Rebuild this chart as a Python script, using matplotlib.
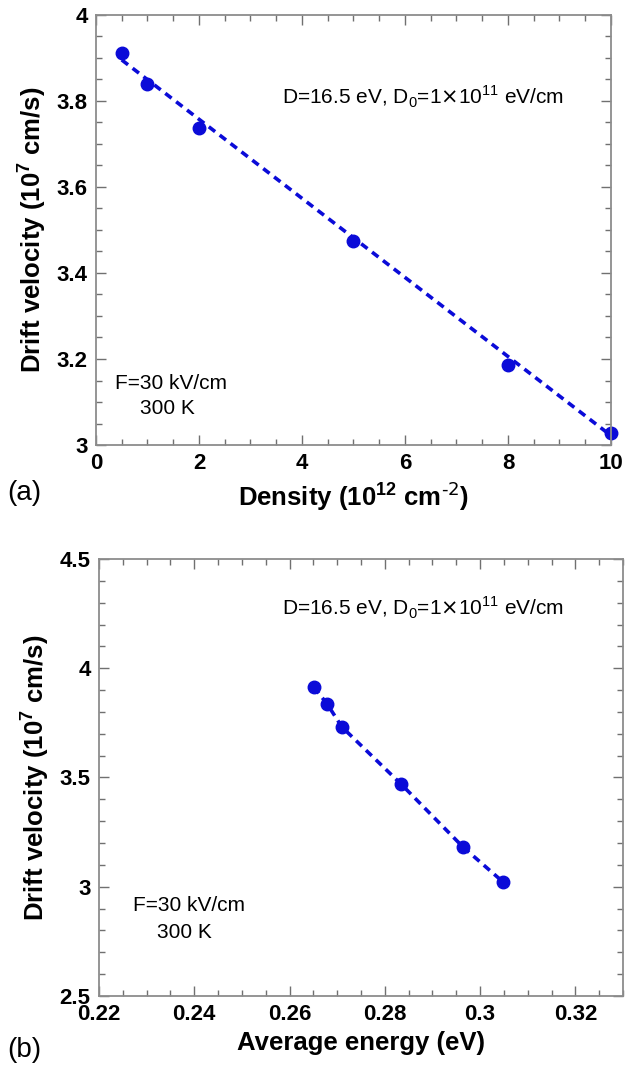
import numpy as np
import matplotlib
matplotlib.use("Agg")
import matplotlib.pyplot as plt
from matplotlib.ticker import MultipleLocator

# data
density = [0.5, 1, 2, 5, 8, 10]                      # 10^12 cm^-2
velocity = [3.912, 3.838, 3.737, 3.475, 3.186, 3.027]  # 10^7 cm/s
fit_density = [0.5, 10]
fit_velocity = [3.895, 3.022]

energy = [0.2651, 0.2679, 0.2710, 0.2834, 0.2964, 0.3048]  # eV
velocity_b = [3.914, 3.836, 3.731, 3.470, 3.182, 3.022]

blue = '#0b0bd8'
narrow = ['Liberation Sans Narrow', 'Liberation Sans', 'DejaVu Sans']
plain = ['Liberation Sans', 'DejaVu Sans']

plt.rcParams['font.family'] = plain

fig = plt.figure(figsize=(6.34, 10.75), dpi=100)
ax1 = fig.add_axes([0.1514, 0.586, 0.8123, 0.4003])
ax2 = fig.add_axes([0.1562, 0.0735, 0.8265, 0.4065])


def style(ax):
    for s in ax.spines.values():
        s.set_color('#8c8c8c')
        s.set_linewidth(1.3)
    ax.tick_params(which='both', direction='in', top=True, right=True,
                   color='#707070', width=1.0)
    ax.tick_params(which='major', length=7, labelsize=16, pad=6)
    ax.tick_params(which='minor', length=4)
    for lab in ax.get_xticklabels() + ax.get_yticklabels():
        lab.set_family(narrow)
        lab.set_fontweight('bold')


# (a) drift velocity vs density
ax1.plot(fit_density, fit_velocity, '--', color=blue, lw=2.6, dashes=(2.2, 1.6))
ax1.plot(density, velocity, 'o', color=blue, ms=9, clip_on=False)
ax1.set_xlim(0, 10)
ax1.set_ylim(3, 4)
ax1.xaxis.set_major_locator(MultipleLocator(2))
ax1.xaxis.set_minor_locator(MultipleLocator(0.5))
ax1.yaxis.set_major_locator(MultipleLocator(0.2))
ax1.yaxis.set_minor_locator(MultipleLocator(0.05))
ax1.set_yticks([3, 3.2, 3.4, 3.6, 3.8, 4], ['3', '3.2', '3.4', '3.6', '3.8', '4'])
ax1.set_xticks([0, 2, 4, 6, 8, 10], ['0', '2', '4', '6', '8', '10'])
style(ax1)
ax1.set_xlabel(r'Density (10$^{\mathregular{12}}$ cm$^{\text{-2}}$)',
               fontsize=18.5, fontweight='bold', family=narrow, labelpad=4)
ax1.set_ylabel(r'Drift velocity (10$^{\mathregular{7}}$ cm/s)',
               fontsize=18.5, fontweight='bold', family=narrow, labelpad=6)
ax1.text(0.635, 0.809, r'D=16.5 eV, D$_{\mathregular{0}}$=1$\times$10$^{\mathregular{11}}$ eV/cm',
         transform=ax1.transAxes, ha='center', va='center', fontsize=15)
ax1.text(0.037, 0.144, 'F=30 kV/cm', transform=ax1.transAxes, ha='left', va='center', fontsize=15)
ax1.text(0.086, 0.086, '300 K', transform=ax1.transAxes, ha='left', va='center', fontsize=15)
fig.text(0.012, 0.541, '(a)', fontsize=20, ha='left', va='center')

# (b) drift velocity vs average energy
ax2.plot(energy, velocity_b, '--', color=blue, lw=2.6, dashes=(2.2, 1.6))
ax2.plot(energy, velocity_b, 'o', color=blue, ms=9)
ax2.set_xlim(0.22, 0.33)
ax2.set_ylim(2.5, 4.5)
ax2.xaxis.set_major_locator(MultipleLocator(0.02))
ax2.xaxis.set_minor_locator(MultipleLocator(0.005))
ax2.yaxis.set_major_locator(MultipleLocator(0.5))
ax2.yaxis.set_minor_locator(MultipleLocator(0.1))
ax2.set_xticks([0.22, 0.24, 0.26, 0.28, 0.30, 0.32],
               ['0.22', '0.24', '0.26', '0.28', '0.3', '0.32'])
ax2.set_yticks([2.5, 3, 3.5, 4, 4.5], ['2.5', '3', '3.5', '4', '4.5'])
style(ax2)
ax2.set_xlabel('Average energy (eV)', fontsize=18.5, fontweight='bold',
               family=narrow, labelpad=4)
ax2.set_ylabel(r'Drift velocity (10$^{\mathregular{7}}$ cm/s)',
               fontsize=18.5, fontweight='bold', family=narrow, labelpad=6)
ax2.text(0.618, 0.888, r'D=16.5 eV, D$_{\mathregular{0}}$=1$\times$10$^{\mathregular{11}}$ eV/cm',
         transform=ax2.transAxes, ha='center', va='center', fontsize=15)
ax2.text(0.065, 0.206, 'F=30 kV/cm', transform=ax2.transAxes, ha='left', va='center', fontsize=15)
ax2.text(0.11, 0.146, '300 K', transform=ax2.transAxes, ha='left', va='center', fontsize=15)
fig.text(0.012, 0.023, '(b)', fontsize=20, ha='left', va='center')

fig.savefig('out.png', dpi=100)
